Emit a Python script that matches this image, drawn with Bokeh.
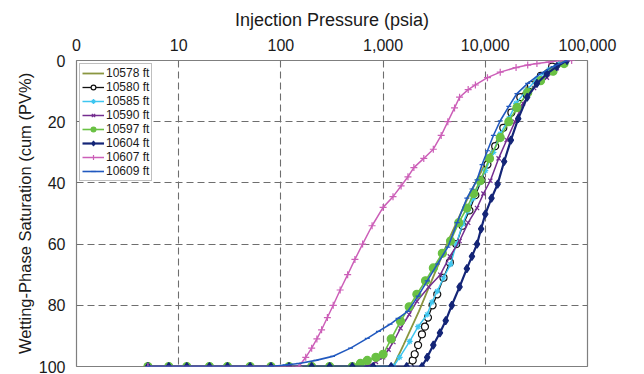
import numpy as np
from bokeh.plotting import figure
from bokeh.models import Range1d, FixedTicker, Legend, LegendItem
from bokeh.embed import file_html
from bokeh.resources import INLINE

# ---- data (pressure psia, wetting-phase saturation %) ----
p_10578 = [5, 1260, 1580, 2240, 3160, 4470, 6300, 8900, 12600, 17800, 25100, 39800, 56000]
s_10578 = [100, 100, 93, 82, 70, 58, 47, 37, 27, 17, 9, 3, 0]

p_10580 = [5, 1820, 1950, 2040, 2200, 2400, 2570, 2750, 3050, 3390, 3900, 4500, 5200, 6000, 7000, 8000, 9200, 10500, 12500, 15000, 18000, 22000, 28000, 35000, 45000, 57000]
s_10580 = [100, 100, 98, 96, 93, 89.5, 87, 84, 80, 76.4, 71, 66, 60, 54, 49, 44, 39, 34, 28, 22, 17, 12, 8, 5, 2, 0]

p_10585 = [5, 1260, 1450, 1820, 2200, 2700, 3000, 3390, 3900, 4570, 5200, 6000, 6800, 7600, 8700, 10000, 12000, 14000, 17000, 20000, 25000, 32000, 42000, 55000]
s_10585 = [100, 100, 97, 91.8, 87, 83, 79, 75.4, 71, 66.6, 60, 53.4, 49, 45, 40, 36, 30, 24, 19, 14, 10, 6, 3, 0]

p_10590 = [5, 700, 850, 1000, 1130, 1260, 1480, 1800, 2140, 2800, 3630, 4500, 5600, 6800, 8300, 9600, 11200, 13500, 16200, 19500, 23400, 30000, 40000, 50000, 60000]
s_10590 = [100, 100, 98.5, 97, 94.5, 92, 87.5, 83, 78.7, 74, 70, 64, 59, 53, 48.2, 43.5, 39.3, 32, 26, 20, 14, 9, 5.6, 2.5, 0]

p_10597 = [5, 8, 12, 20, 30, 50, 80, 120, 200, 300, 500, 600, 700, 850, 1000, 1200, 1480, 1800, 2140, 2600, 3100, 3800, 4570, 5500, 6600, 7700, 8900, 11000, 14000, 17000, 20400, 26000, 34700, 46000, 59000]
s_10597 = [100, 100, 100, 100, 100, 100, 100, 100, 100, 100, 100, 99, 98, 97, 96, 91, 85.2, 80.5, 76.4, 72, 67.8, 63, 59, 53, 48.2, 43.5, 39.3, 32, 25.2, 20, 15.4, 10.5, 6.6, 3.5, 1]

p_10604 = [5, 8, 12, 20, 30, 50, 80, 120, 200, 300, 500, 800, 1200, 1700, 2400, 2700, 3100, 3600, 4100, 4700, 5600, 6600, 7400, 8300, 9100, 10000, 11500, 13200, 15300, 17800, 21000, 25700, 32000, 40000, 50000, 63000]
s_10604 = [100, 100, 100, 100, 100, 100, 100, 100, 100, 100, 100, 100, 100, 100, 100, 97, 93, 89, 85, 80, 74, 68, 64, 60, 55, 50.2, 45, 40.4, 33, 26, 19, 12, 7.5, 4.3, 2, 0]

p_10607 = [5, 150, 175, 200, 225, 250, 285, 325, 380, 450, 530, 630, 780, 1000, 1250, 1500, 1750, 2000, 2500, 3100, 3700, 4300, 5000, 5600, 6800, 8000, 10500, 14000, 20000, 26000, 32000, 42000, 55000, 70000]
s_10607 = [100, 100, 97, 94, 91, 88, 84, 80, 75, 70, 65, 60, 54, 48, 44.5, 41, 38, 35, 32, 29, 24.5, 20, 15.5, 12, 9.5, 8, 5.6, 3.8, 2.3, 1.5, 1, 0.5, 0, 0]

p_10609 = [5, 80, 110, 150, 220, 320, 480, 700, 900, 1170, 1400, 1740, 2200, 2700, 3400, 4300, 5300, 6600, 7400, 8300, 9300, 10500, 12000, 14000, 17000, 20400, 26000, 34700, 46000, 63000]
s_10609 = [100, 100, 99.5, 99, 98, 96.7, 94, 90.8, 88.5, 86.2, 84.3, 82, 77, 72, 66.5, 61, 53, 45, 42, 39, 34, 29.5, 24.5, 19.7, 15, 10.8, 7.5, 4.3, 2, 0]

labels = ["10578 ft", "10580 ft", "10585 ft", "10590 ft", "10597 ft", "10604 ft", "10607 ft", "10609 ft"]
x_ticks = [1, 10, 100, 1000, 10000, 100000]
x_tick_labels = ["0", "10", "100", "1,000", "10,000", "100,000"]
y_ticks = [0, 20, 40, 60, 80, 100]

FONT = "Liberation Sans"

p = figure(width=636, height=374, x_axis_type="log", x_axis_location="above",
           output_backend="svg", toolbar_location=None,
           x_range=Range1d(1, 100000), y_range=Range1d(100, 0),
           min_border_left=76, min_border_right=49, min_border_top=60, min_border_bottom=8)

p.outline_line_color = "#7f7f7f"
p.outline_line_width = 1.2

for ax in (p.xaxis[0], p.yaxis[0]):
    ax.axis_line_color = None
    ax.major_tick_line_color = None
    ax.minor_tick_line_color = None
    ax.major_label_text_font = FONT
    ax.major_label_text_font_size = "16px"
    ax.major_label_text_color = "#1a1a1a"
    ax.axis_label_text_font = FONT
    ax.axis_label_text_font_style = "normal"
    ax.axis_label_text_color = "#1a1a1a"

p.xaxis.ticker = FixedTicker(ticks=x_ticks)
p.xaxis.major_label_overrides = {t: l for t, l in zip(x_ticks, x_tick_labels)}
p.xaxis.axis_label = "Injection Pressure (psia)"
p.xaxis.axis_label_text_font_size = "18px"
p.xaxis.major_label_standoff = 4
p.xaxis.axis_label_standoff = 6

p.yaxis.ticker = FixedTicker(ticks=y_ticks)
p.yaxis.axis_label = "Wetting-Phase Saturation (cum (PV%)"
p.yaxis.axis_label_text_font_size = "16.5px"
p.yaxis.major_label_standoff = 5
p.yaxis.axis_label_standoff = 2

p.xgrid.ticker = FixedTicker(ticks=x_ticks)
p.ygrid.ticker = FixedTicker(ticks=y_ticks)
for g in (p.xgrid[0], p.ygrid[0]):
    g.grid_line_color = "#6e6e6e"
    g.grid_line_dash = "7 4"
    g.grid_line_width = 1.1

items = []

def add(px, sy, label, color, lw, marker=None, msize=6, fill=None):
    rs = [p.line(px, sy, line_color=color, line_width=lw)]
    if marker is not None:
        rs.append(p.scatter(px, sy, marker=marker, size=msize, line_color=color,
                            fill_color=color if fill is None else fill, line_width=1.2))
    items.append(LegendItem(label=label, renderers=rs))

add(p_10578, s_10578, labels[0], "#8a9640", 1.8)
add(p_10580, s_10580, labels[1], "#111111", 1.3, "circle", 7, "white")
add(p_10585, s_10585, labels[2], "#3ec6f0", 1.5, "asterisk", 6)
add(p_10590, s_10590, labels[3], "#742d8f", 1.5, "x", 6)
add(p_10597, s_10597, labels[4], "#6ac144", 1.6, "circle", 8)
add(p_10604, s_10604, labels[5], "#142577", 2.2, "diamond", 8)
add(p_10607, s_10607, labels[6], "#cc5fb8", 1.5, "cross", 7)
add(p_10609, s_10609, labels[7], "#2159bf", 1.6, "dash", 5)

legend = Legend(items=items, location="top_left")
legend.label_text_font = FONT
legend.label_text_font_size = "12px"
legend.label_text_color = "#1a1a1a"
legend.glyph_width = 22
legend.glyph_height = 12
legend.label_height = 12
legend.label_standoff = 2
legend.spacing = 0
legend.padding = 2
legend.margin = 3
legend.border_line_color = "#7f7f7f"
legend.border_line_width = 1
legend.background_fill_color = "white"
legend.background_fill_alpha = 1
p.add_layout(legend)

open("out.html", "w").write(file_html(p, INLINE))
